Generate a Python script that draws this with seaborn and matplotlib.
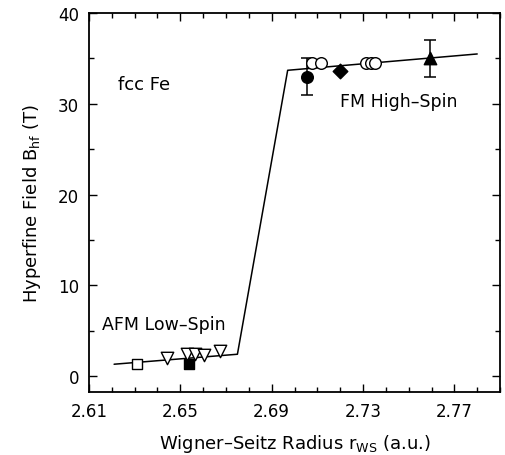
import numpy as np
import pandas as pd
import matplotlib
matplotlib.use("Agg")
import matplotlib.pyplot as plt
from matplotlib.ticker import MultipleLocator
import seaborn as sns

# ---- data ----
# theory curve (kinked line)
line_x = [2.621, 2.675, 2.697, 2.780]
line_y = [1.3, 2.4, 33.7, 35.5]

# experimental points
open_sq_x = [2.631]
open_sq_y = [1.3]
solid_sq_x = [2.654]
solid_sq_y = [1.3]
tri_down_x = [2.644, 2.653, 2.6565, 2.6605, 2.6675]
tri_down_y = [2.0, 2.4, 2.4, 2.3, 2.8]
solid_circ_x = [2.7055]
solid_circ_y = [33.0]
solid_circ_err = [2.0]
open_circ_x = [2.7075, 2.7115, 2.7315, 2.7335, 2.7352]
open_circ_y = [34.5, 34.5, 34.5, 34.5, 34.5]
diamond_x = [2.720]
diamond_y = [33.6]
tri_up_x = [2.7595]
tri_up_y = [35.0]
tri_up_err = [2.0]

xticks = [2.61, 2.65, 2.69, 2.73, 2.77]
yticks = [0, 10, 20, 30, 40]

sns.set_style("ticks")
plt.rcParams['font.family'] = ['DejaVu Sans']
plt.rcParams['text.color'] = 'black'
plt.rcParams['axes.labelcolor'] = 'black'

fig = plt.figure(figsize=(5.05, 4.56), dpi=100)
ax = fig.add_axes([0.1762, 0.138, 0.814, 0.831])

line_df = pd.DataFrame({"x": line_x, "y": line_y})
sns.lineplot(data=line_df, x="x", y="y", ax=ax, color="black", lw=1.1,
             sort=False, estimator=None)

# error bars
ax.errorbar(solid_circ_x, solid_circ_y, yerr=solid_circ_err, fmt="none",
            ecolor="black", elinewidth=1.1, capsize=4, capthick=1.1, zorder=3)
ax.errorbar(tri_up_x, tri_up_y, yerr=tri_up_err, fmt="none",
            ecolor="black", elinewidth=1.1, capsize=4, capthick=1.1, zorder=3)

groups = [
    (open_sq_x, open_sq_y, "s", "white", 55),
    (solid_sq_x, solid_sq_y, "s", "black", 55),
    (tri_down_x, tri_down_y, "v", "white", 80),
    (open_circ_x, open_circ_y, "o", "white", 70),
    (solid_circ_x, solid_circ_y, "o", "black", 70),
    (diamond_x, diamond_y, "D", "black", 55),
    (tri_up_x, tri_up_y, "^", "black", 80),
]
for gx, gy, m, fc, s in groups:
    df = pd.DataFrame({"x": gx, "y": gy})
    sns.scatterplot(data=df, x="x", y="y", ax=ax, marker=m, s=s,
                    facecolor=fc, edgecolor="black", linewidth=1.0, zorder=4)

ax.set_xlim(2.61, 2.79)
ax.set_ylim(-1.77, 40)
ax.set_xticks(xticks)
ax.set_xticklabels([f"{t:.2f}" for t in xticks])
ax.set_yticks(yticks)
ax.xaxis.set_minor_locator(MultipleLocator(0.01))
ax.yaxis.set_minor_locator(MultipleLocator(5))
ax.tick_params(which="both", direction="in", top=True, right=True,
               width=1.0, labelsize=12, colors="black")
ax.tick_params(which="major", length=6, pad=7)
ax.tick_params(which="minor", length=3.5)
for sp in ax.spines.values():
    sp.set_linewidth(1.3)
    sp.set_color("black")

ax.set_xlabel("Wigner\u2013Seitz Radius r$_\\mathregular{WS}$ (a.u.)", fontsize=13, labelpad=9)
ax.set_ylabel("Hyperfine Field B$_\\mathregular{hf}$ (T)", fontsize=13, labelpad=11)

ax.text(2.6225, 31.6, "fcc Fe", fontsize=13, ha="left", va="baseline")
ax.text(2.720, 29.8, "FM High\u2013Spin", fontsize=12.5, ha="left", va="baseline")
ax.text(2.6155, 5.2, "AFM Low\u2013Spin", fontsize=12.5, ha="left", va="baseline")

fig.savefig("out.png", dpi=100)
